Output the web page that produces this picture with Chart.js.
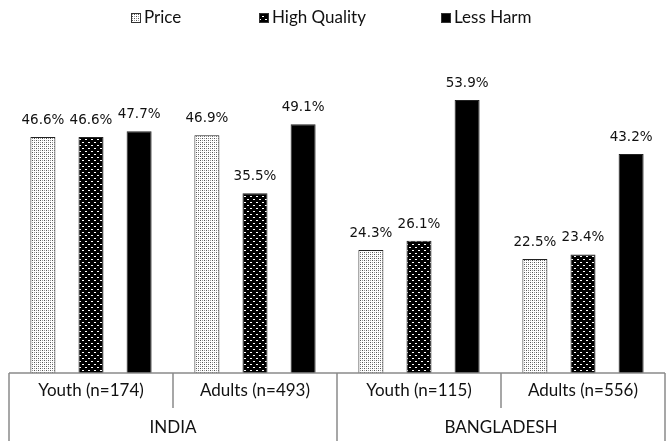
<!DOCTYPE html>
<html>
<head>
<meta charset="utf-8">
<script src="https://cdn.jsdelivr.net/npm/chart.js@4"></script>
<style>
  body { margin: 0; background: #fff; }
  #wrap { width: 672px; height: 441px; }
</style>
</head>
<body>
<div id="wrap"><canvas id="chart" width="672" height="441"></canvas></div>
<script>
// data
const groups = ['Youth (n=174)', 'Adults (n=493)', 'Youth (n=115)', 'Adults (n=556)'];
const countries = ['INDIA', 'BANGLADESH'];
const seriesNames = ['Price', 'High Quality', 'Less Harm'];
const price = [46.6, 46.9, 24.3, 22.5];
const highQuality = [46.6, 35.5, 26.1, 23.4];
const lessHarm = [47.7, 49.1, 53.9, 43.2];

const FONT = 'Lato, "Open Sans", sans-serif';
const LABEL_FONT = '"DejaVu Sans", sans-serif';

// fill patterns
function makePattern(size, bg, dots) {
    const c = document.createElement('canvas');
    c.width = size; c.height = size;
    const g = c.getContext('2d');
    g.fillStyle = bg;
    g.fillRect(0, 0, size, size);
    dots.forEach(d => {
        g.fillStyle = d[4];
        g.fillRect(d[0], d[1], d[2], d[3]);
    });
    return g.createPattern(c, 'repeat');
}
const ctx = document.getElementById('chart').getContext('2d');
const pricePattern = makePattern(4, '#ffffff', [
    [0, 0, 1, 1, '#555'], [2, 2, 1, 1, '#555'], [0, 2, 1, 1, '#999'], [2, 0, 1, 1, '#999']
]);
const hqPattern = makePattern(6, '#000000', [
    [1, 1, 2, 1, '#fff'], [4, 4, 2, 1, '#fff']
]);
const fills = [pricePattern, hqPattern, '#000000'];

// value labels above bars
const valueLabels = {
    id: 'valueLabels',
    afterDatasetsDraw(chart) {
        const c = chart.ctx;
        c.save();
        c.font = '13.5px ' + LABEL_FONT;
        c.fillStyle = '#111';
        c.textAlign = 'center';
        c.textBaseline = 'alphabetic';
        chart.data.datasets.forEach((ds, i) => {
            chart.getDatasetMeta(i).data.forEach((bar, j) => {
                c.fillText(ds.data[j].toFixed(1) + '%', bar.x, bar.y - 13);
            });
        });
        c.restore();
    }
};

// two-level category axis drawn as a table
const groupAxis = {
    id: 'groupAxis',
    afterDraw(chart) {
        const c = chart.ctx;
        const area = chart.chartArea;
        const xs = chart.scales.x;
        const bottom = chart.height;
        const row1 = area.bottom + 35;
        const n = groups.length;
        const step = (area.right - area.left) / n;
        c.save();
        c.strokeStyle = '#8a8a8a';
        c.lineWidth = 1.5;
        c.beginPath();
        c.moveTo(area.left, area.bottom);
        c.lineTo(area.right, area.bottom);
        c.moveTo(area.left, area.bottom);
        c.lineTo(area.left, bottom);
        c.moveTo(area.right, area.bottom);
        c.lineTo(area.right, bottom);
        for (let k = 1; k < n; k++) {
            const x = area.left + step * k;
            c.moveTo(x, area.bottom);
            c.lineTo(x, k === n / 2 ? bottom : row1);
        }
        c.stroke();

        c.font = '17px ' + FONT;
        c.fillStyle = '#111';
        c.textAlign = 'center';
        c.textBaseline = 'middle';
        groups.forEach((g, k) => {
            c.fillText(g, xs.getPixelForValue(k), area.bottom + 18);
        });
        countries.forEach((name, k) => {
            const x = area.left + step * (2 * k + 1);
            c.fillText(name, x, bottom - 13);
        });
        c.restore();
    }
};

// legend drawn across the top
const topLegend = {
    id: 'topLegend',
    afterDraw(chart) {
        const c = chart.ctx;
        const xs = [131, 259, 441];
        c.save();
        c.font = '17px ' + FONT;
        c.textBaseline = 'middle';
        c.textAlign = 'left';
        seriesNames.forEach((name, i) => {
            c.fillStyle = fills[i];
            c.fillRect(xs[i], 13, 10, 10);
            c.strokeStyle = '#333';
            c.lineWidth = 1;
            c.strokeRect(xs[i] + 0.5, 13.5, 9, 9);
            c.fillStyle = '#111';
            c.fillText(name, xs[i] + 13, 18);
        });
        c.restore();
    }
};

new Chart(ctx, {
    type: 'bar',
    data: {
        labels: groups,
        datasets: [price, highQuality, lessHarm].map((vals, i) => ({
            label: seriesNames[i],
            data: vals,
            backgroundColor: fills[i],
            borderColor: '#222',
            borderWidth: 1,
            categoryPercentage: 0.88,
            barPercentage: 0.52
        }))
    },
    options: {
        responsive: false,
        animation: false,
        layout: { padding: { top: 69, bottom: 68, left: 9, right: 7 } },
        plugins: {
            legend: { display: false },
            tooltip: { enabled: false }
        },
        scales: {
            x: { display: false },
            y: { display: false, min: 0, max: 60 }
        }
    },
    plugins: [valueLabels, groupAxis, topLegend]
});
</script>
</body>
</html>
